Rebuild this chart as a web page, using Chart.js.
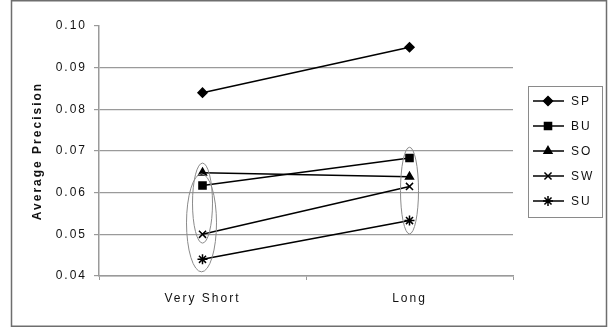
<!DOCTYPE html>
<html lang="en">
<head>
    <meta charset="UTF-8">
    <title>Average Precision</title>
    <style>
        body {
            margin: 0;
            padding: 0;
            background: #fff;
        }
        canvas {
            display: block;
        }
    </style>
</head>
<body>
    <canvas id="myChart" width="608" height="327"></canvas>

    <script src="https://cdn.jsdelivr.net/npm/chart.js"></script>
    <script>
        // values
        const categories = ['Very Short', 'Long'];
        const seriesNames = ['SP', 'BU', 'SO', 'SW', 'SU'];
        const spValues = [0.0840, 0.0949];
        const buValues = [0.0617, 0.0683];
        const soValues = [0.0648, 0.0638];
        const swValues = [0.0500, 0.0615];
        const suValues = [0.0440, 0.0533];
        const yTicks = [0.04, 0.05, 0.06, 0.07, 0.08, 0.09, 0.10];

        // hand-drawn ellipses around groups: category index, value top / bottom, half width (px)
        const ellipses = [
            { cat: 0, top: 0.0671, bottom: 0.0479, half: 10, shift: 0 },
            { cat: 0, top: 0.0645, bottom: 0.0410, half: 15, shift: -1 },
            { cat: 1, top: 0.0709, bottom: 0.0501, half: 9, shift: 0 }
        ];

        const markers = [
            { style: 'rectRot', radius: 4.5 },
            { style: 'rect', radius: 5 },
            { style: 'triangle', radius: 4.5 },
            { style: 'crossRot', radius: 5 },
            { style: 'star', radius: 5 }
        ];
        const allValues = [spValues, buValues, soValues, swValues, suValues];

        const FONT = 'Liberation Sans, Arial, sans-serif';
        const GRID = '#9a9a9a';

        const spacingPlugin = {
            id: 'spacing',
            beforeUpdate(chart) { chart.ctx.letterSpacing = '2px'; },
            beforeLayout(chart) { chart.ctx.letterSpacing = '2px'; },
            beforeDraw(chart) { chart.ctx.letterSpacing = '2px'; }
        };

        const extrasPlugin = {
            id: 'extras',
            afterDatasetsDraw(chart) {
                const ctx = chart.ctx;
                const x = chart.scales.x, y = chart.scales.y;
                ctx.save();
                ctx.strokeStyle = '#8a8a8a';
                ctx.lineWidth = 1;
                ellipses.forEach(e => {
                    const cx = x.getPixelForValue(e.cat) + e.shift;
                    const y1 = y.getPixelForValue(e.top);
                    const y2 = y.getPixelForValue(e.bottom);
                    ctx.beginPath();
                    ctx.ellipse(cx, (y1 + y2) / 2, e.half, (y2 - y1) / 2, 0, 0, Math.PI * 2);
                    ctx.stroke();
                });
                ctx.restore();
            },
            afterDraw(chart) {
                const ctx = chart.ctx;
                ctx.save();
                // legend box
                const lx = 528, ly = 86, lw = 74, lh = 131;
                ctx.strokeStyle = '#8a8a8a';
                ctx.lineWidth = 1;
                ctx.strokeRect(lx + 0.5, ly + 0.5, lw, lh);
                ctx.font = '12px ' + FONT;
                ctx.letterSpacing = '2px';
                ctx.textBaseline = 'middle';
                ctx.fillStyle = '#111';
                seriesNames.forEach((name, i) => {
                    const cy = ly + 15 + i * 25;
                    ctx.strokeStyle = '#000';
                    ctx.lineWidth = 1.5;
                    ctx.beginPath();
                    ctx.moveTo(lx + 5, cy);
                    ctx.lineTo(lx + 36, cy);
                    ctx.stroke();
                    const ds = chart.data.datasets[i];
                    Chart.helpers.drawPoint(ctx, {
                        pointStyle: ds.pointStyle,
                        radius: ds.pointRadius,
                        rotation: 0,
                        borderWidth: 1.5
                    }, lx + 20, cy);
                    ctx.fillStyle = '#000';
                    ctx.strokeStyle = '#000';
                    if (ds.pointStyle !== 'crossRot' && ds.pointStyle !== 'star') ctx.fill();
                    ctx.fillStyle = '#111';
                    ctx.fillText(name, lx + 43, cy + 1);
                });
                // outer frame
                ctx.strokeStyle = '#6e6e6e';
                ctx.lineWidth = 1.5;
                ctx.strokeRect(11.5, 0.75, 595, 325.5);
                ctx.restore();
            }
        };

        const ctx = document.getElementById('myChart').getContext('2d');
        new Chart(ctx, {
            type: 'line',
            data: {
                labels: categories,
                datasets: seriesNames.map((name, i) => ({
                    label: name,
                    data: allValues[i],
                    borderColor: '#000',
                    backgroundColor: '#000',
                    borderWidth: 1.5,
                    pointStyle: markers[i].style,
                    pointRadius: markers[i].radius,
                    pointBorderWidth: 1.5,
                    pointBorderColor: '#000',
                    pointBackgroundColor: '#000',
                    tension: 0
                }))
            },
            options: {
                responsive: false,
                animation: false,
                layout: { padding: { left: 0, top: 26, right: 95, bottom: 0 } },
                plugins: {
                    legend: { display: false },
                    tooltip: { enabled: false }
                },
                scales: {
                    x: {
                        offset: true,
                        grid: {
                            offset: true,
                            drawOnChartArea: false,
                            drawTicks: true,
                            tickLength: 4,
                            tickColor: GRID,
                            color: GRID
                        },
                        border: { color: GRID, width: 1.5 },
                        ticks: {
                            padding: 11,
                            color: '#111',
                            font: { family: FONT, size: 12 }
                        },
                        afterFit(s) { s.height = 51; }
                    },
                    y: {
                        min: 0.04,
                        max: 0.10,
                        afterBuildTicks(s) { s.ticks = yTicks.map(v => ({ value: v })); },
                        grid: {
                            color: c => (c.tick && c.tick.value >= 0.0999) ? 'rgba(0,0,0,0)' : GRID,
                            tickColor: GRID,
                            tickLength: 5,
                            lineWidth: 1.2
                        },
                        border: { color: GRID, width: 1.5 },
                        ticks: {
                            padding: 7,
                            color: '#111',
                            font: { family: FONT, size: 12 },
                            callback: v => v.toFixed(2)
                        },
                        title: {
                            display: true,
                            text: 'Average Precision',
                            color: '#111',
                            font: { family: FONT, size: 12, weight: 'bold' },
                            padding: { top: 30, bottom: 0 }
                        },
                        afterFit(s) { s.width = 99; }
                    }
                }
            },
            plugins: [spacingPlugin, extrasPlugin]
        });
    </script>
</body>
</html>
